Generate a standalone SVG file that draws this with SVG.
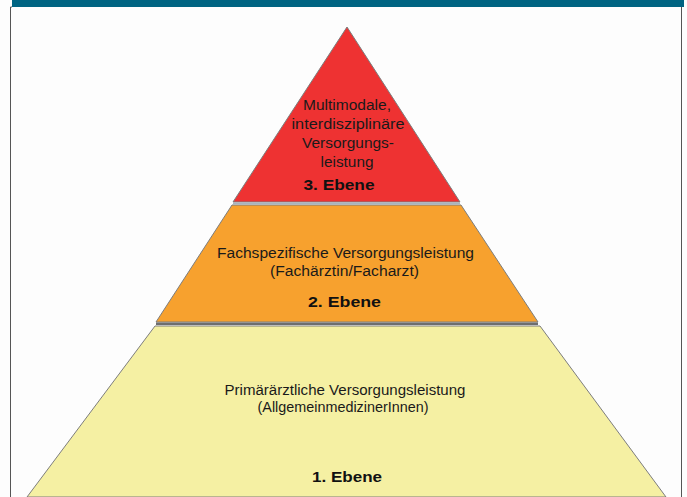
<svg xmlns="http://www.w3.org/2000/svg" width="687" height="497" viewBox="0 0 687 497">
<style>
.t{font-family:"Liberation Sans",Arial,sans-serif;font-size:14px;fill:#1a1a1a;text-anchor:middle}
.b{font-weight:bold;font-size:15px;fill:#111}
.edge{stroke:#7d7d7d;stroke-width:1}
</style>
<rect x="0" y="0" width="687" height="497" fill="#fdfdfd"/>
<g id="frame">
<rect x="12" y="0" width="672" height="7" fill="#006482"/>
<path d="M12 7 H10.5 V497" fill="none" stroke="#555" stroke-width="1"/>
<path d="M681.5 7 V497" fill="none" stroke="#555" stroke-width="1"/>
</g>
<g id="level1">
<polygon class="edge" points="155,326 540,326 666,497 27,497" fill="#f5f0a3"/>
<text class="t" x="345" y="395" textLength="241" lengthAdjust="spacingAndGlyphs">Primärärztliche Versorgungsleistung</text>
<text class="t" x="343" y="412" textLength="171" lengthAdjust="spacingAndGlyphs">(AllgemeinmedizinerInnen)</text>
<text class="t b" x="347" y="482" textLength="70" lengthAdjust="spacingAndGlyphs">1. Ebene</text>
</g>
<g id="level2">
<polygon class="edge" points="232,205 461,205 538,322 156,322" fill="#f7a12e"/>
<line x1="156" y1="323.8" x2="538" y2="323.8" stroke="#6e6e6e" stroke-width="2.5"/>
<text class="t" x="345.5" y="258" textLength="257" lengthAdjust="spacingAndGlyphs">Fachspezifische Versorgungsleistung</text>
<text class="t" x="344.5" y="276" textLength="149" lengthAdjust="spacingAndGlyphs">(Fachärztin/Facharzt)</text>
<text class="t b" x="344.5" y="307" textLength="73" lengthAdjust="spacingAndGlyphs">2. Ebene</text>
</g>
<g id="level3">
<polygon class="edge" points="347,27 233,202 460,202" fill="#ee3232"/>
<line x1="233" y1="203.5" x2="460" y2="203.5" stroke="#a9b3bb" stroke-width="2"/>
<text class="t" x="347" y="110" textLength="88" lengthAdjust="spacingAndGlyphs">Multimodale,</text>
<text class="t" x="348" y="129" textLength="113" lengthAdjust="spacingAndGlyphs">interdisziplinäre</text>
<text class="t" x="348" y="148" textLength="92" lengthAdjust="spacingAndGlyphs">Versorgungs-</text>
<text class="t" x="347" y="167" textLength="53" lengthAdjust="spacingAndGlyphs">leistung</text>
<text class="t b" x="339" y="190" textLength="71" lengthAdjust="spacingAndGlyphs">3. Ebene</text>
</g>
<g id="connectors"/>
</svg>
